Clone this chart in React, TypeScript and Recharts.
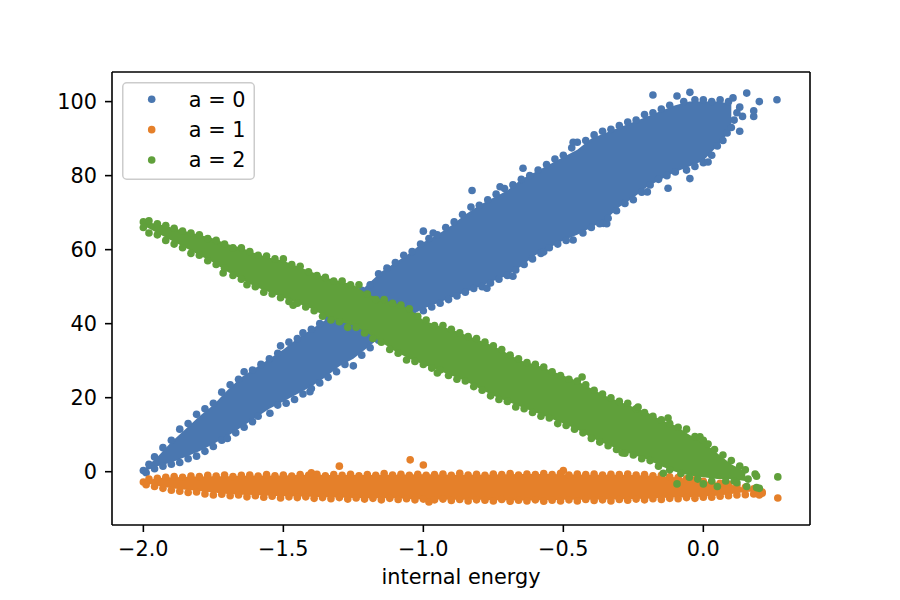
import React from 'react';
import { ComposedChart, Area, Scatter, XAxis, YAxis } from 'recharts';

const BLUE = '#4a77b0';
const ORANGE = '#e5802a';
const GREEN = '#60a03b';
const FONT = 'DejaVu Sans';

const seriesNames = ['a = 0', 'a = 1', 'a = 2'];
const seriesColors = [BLUE, ORANGE, GREEN];

const xTicks = [-2, -1.5, -1, -0.5, 0];
const yTicks = [0, 20, 40, 60, 80, 100];

// x grid for the dense core of each cloud
const bandX = [-2.0, -1.95, -1.9, -1.85, -1.8, -1.75, -1.7, -1.65, -1.6, -1.55, -1.5, -1.45, -1.4, -1.35, -1.3, -1.25, -1.2, -1.15, -1.1, -1.05, -1.0, -0.95, -0.9, -0.85, -0.8, -0.75, -0.7, -0.65, -0.6, -0.55, -0.5, -0.45, -0.4, -0.35, -0.3, -0.25, -0.2, -0.15, -0.1, -0.05, 0, 0.05, 0.1, 0.15, 0.2];

// a = 0 core (lower / upper)
const blueLo = [0, 1.5, 2.5, 4, 5.5, 7.5, 9.6, 12, 14.5, 17, 19, 21, 23, 25.5, 28.5, 30.5, 33.5, 36.5, 39.5, 42, 44, 45.5, 47, 48.5, 50, 51.5, 53, 55.5, 58.5, 60.5, 62.5, 64, 66, 68, 71.5, 74, 77, 79, 81, 82.5, 84, 88, 92.5, null, null];
const blueHi = [0.5, 4, 8, 11.5, 15, 18, 22, 25.5, 28, 30.5, 33, 36, 38.5, 41, 44, 47, 50.5, 54, 56.5, 59, 62, 64, 66.5, 69.5, 72, 74, 76, 79, 81, 83, 85, 87, 90, 91.5, 93, 94.5, 96, 97.5, 99, 100, 100, 100, 99.5, null, null];

// a = 1 core
const orangeLo = [-3, -3.8, -4.5, -4.9, -5.2, -5.6, -6, -6.2, -6.3, -6.5, -6.6, -6.7, -6.8, -6.9, -7, -7.1, -7.2, -7.2, -7.2, -7.4, -7.5, -7.5, -7.6, -7.6, -7.6, -7.7, -7.8, -7.8, -7.8, -7.7, -7.6, -7.6, -7.6, -7.5, -7.5, -7.4, -7.3, -7.1, -7, -6.9, -6.8, -6.5, -6, -5.5, -5.3];
const orangeHi = [-2.5, -1.8, -1.5, -1.4, -1.3, -1.25, -1.2, -1.1, -1, -1, -1, -0.9, -0.8, -0.9, -0.9, -0.9, -0.9, -0.85, -0.8, -0.75, -0.7, -0.75, -0.8, -0.8, -0.8, -0.75, -0.7, -0.65, -0.6, -0.65, -0.7, -0.75, -0.8, -0.8, -0.8, -0.9, -1, -1.2, -1.5, -2, -2.5, -3, -3.5, -4.5, -5];

// a = 2 core
const greenLo = [66.5, 64.5, 62.5, 60.5, 58.5, 56.5, 54, 52, 50, 48.5, 47, 45.5, 44, 42, 40.5, 39.5, 37.5, 35, 32.5, 30.5, 29, 27.5, 26, 24.5, 22.5, 20.5, 19, 17.5, 16, 14.5, 13, 11.4, 9.2, 7.5, 6, 4.5, 3.3, 1.5, 0, -1, -1.5, -2, -2, -2.5, null];
const greenHi = [67.5, 67, 66, 65, 64, 63, 61.5, 60.5, 59, 57.8, 57, 55.5, 54, 52.5, 51.5, 50.5, 48, 46.5, 45.5, 44, 41, 39.5, 38.5, 37, 35.5, 34, 32, 30, 29, 27.5, 26, 24.5, 22.5, 20.5, 19, 17.5, 16, 14, 12.5, 10, 8, 5, 2, 0, null];

// individual markers along the cloud edges and stray points
const blueDots: [number, number][] = [
  [-2.0, 0.3], [-1.98, 2], [-1.96, 4], [-1.93, 6.5], [-1.9, 8.5], [-1.87, 11.5], [-1.84, 13], [-1.81, 15.5], [-1.78, 17], [-1.75, 18.5],
  [-1.72, 21.5], [-1.69, 23.5], [-1.66, 25], [-1.64, 27], [-1.61, 27.5], [-1.58, 29], [-1.55, 30.5], [-1.52, 32], [-1.51, 34], [-1.48, 35],
  [-1.45, 36], [-1.43, 37.5], [-1.4, 38.5], [-1.37, 40], [-1.34, 41.5], [-1.31, 43.5], [-1.28, 45], [-1.25, 46.5], [-1.22, 49], [-1.19, 50.5],
  [-1.16, 53.5], [-1.13, 55], [-1.1, 56.5], [-1.07, 58.5], [-1.04, 59.5], [-1.01, 61.5], [-1.0, 65], [-0.98, 63], [-0.965, 64.5], [-0.95, 64], [-0.92, 66],
  [-0.89, 67.5], [-0.86, 69.5], [-0.83, 71.5], [-0.826, 76], [-0.8, 72], [-0.77, 73.5], [-0.74, 75], [-0.726, 77], [-0.71, 76.5], [-0.68, 77.5], [-0.65, 79],
  [-0.644, 82], [-0.62, 80], [-0.59, 81.5], [-0.56, 83], [-0.53, 84.5], [-0.5, 85.5], [-0.47, 87.5], [-0.465, 89], [-0.45, 89], [-0.42, 89.5], [-0.39, 91],
  [-0.36, 92], [-0.33, 92.5], [-0.3, 93.5], [-0.27, 94.5], [-0.24, 95], [-0.21, 96.5], [-0.18, 97], [-0.18, 101.8], [-0.15, 98], [-0.12, 99],
  [-0.094, 101.5], [-0.07, 100], [-0.048, 102.5], [-0.03, 100.5], [0, 100.5], [0.03, 100], [0.06, 100.5], [0.09, 100], [0.106, 101], [0.13, 98.5],
  [0.14, 96], [0.155, 102.3], [0.18, 96], [0.18, 97.5], [0.2, 100], [0.263, 100.5], [0.13, 92],
  [-1.99, -0.3], [-1.96, 0.8], [-1.93, 1.5], [-1.9, 2], [-1.87, 2.5], [-1.84, 3.5], [-1.81, 4.2], [-1.78, 5.5], [-1.75, 6.8], [-1.72, 8.5],
  [-1.7, 9], [-1.67, 10.5], [-1.64, 12], [-1.61, 13.5], [-1.59, 15], [-1.548, 15.8], [-1.52, 18], [-1.49, 18.5], [-1.46, 19.5], [-1.43, 21],
  [-1.405, 21.6], [-1.4, 22.5], [-1.37, 24], [-1.34, 25.5], [-1.31, 27], [-1.28, 29], [-1.25, 28.6], [-1.22, 31.5], [-1.19, 33.5], [-1.16, 35.5], [-1.13, 37],
  [-1.1, 39], [-1.07, 41], [-1.04, 42.5], [-1.0, 43.5], [-0.97, 44.5], [-0.94, 45.5], [-0.91, 46.5], [-0.88, 47.5], [-0.85, 48.5], [-0.82, 49.5],
  [-0.79, 50], [-0.773, 49.6], [-0.76, 51], [-0.73, 52], [-0.7, 53], [-0.68, 52.8], [-0.67, 54.5], [-0.64, 56], [-0.61, 57.5], [-0.58, 59],
  [-0.57, 59.4], [-0.55, 60.5], [-0.52, 61.5], [-0.49, 62.5], [-0.465, 62.6], [-0.43, 64.5], [-0.4, 66], [-0.37, 67], [-0.357, 67.1], [-0.345, 67], [-0.34, 68.5], [-0.31, 70.5],
  [-0.28, 72.5], [-0.25, 73.5], [-0.22, 75.5], [-0.2, 75.6], [-0.19, 77.5], [-0.16, 79], [-0.126, 76.6], [-0.13, 80], [-0.1, 81], [-0.06, 81.5], [-0.048, 79.2], [-0.03, 82.5],
  [0, 83.5], [0.017, 83.7], [0.03, 85.5], [0.05, 88], [0.07, 89.5], [0.085, 91.5], [0.1, 93], [0.11, 95], [0.12, 97],
];

const orangeDots: [number, number][] = [
  [-2.0, -2.8], [-1.98, -2], [-1.95, -1.8], [-1.92, -1.5], [-1.89, -1.3], [-1.86, -1.5], [-1.83, -1.2], [-1.8, -1.3], [-1.77, -1.0], [-1.74, -1.2],
  [-1.71, -0.9], [-1.68, -1.3], [-1.65, -1.0], [-1.62, -0.9], [-1.59, -1.2], [-1.56, -0.8], [-1.53, -1.1], [-1.5, -0.9], [-1.47, -1.2], [-1.44, -0.8],
  [-1.41, -1.0], [-1.4, -0.3], [-1.38, -0.7], [-1.35, -1.1], [-1.32, -0.8], [-1.3, 1.5], [-1.29, -1.0], [-1.26, -0.7], [-1.23, -1.1], [-1.2, -0.8],
  [-1.17, -1.0], [-1.14, -0.5], [-1.11, -0.9], [-1.08, -0.7], [-1.047, 3.2], [-1.05, -1.0], [-1.0, 1.8], [-1.02, -0.7], [-0.99, -1.0], [-0.96, -0.8],
  [-0.93, -0.6], [-0.9, -1.0], [-0.87, -0.4], [-0.84, -0.9], [-0.81, -0.7], [-0.78, -1.0], [-0.75, -0.6], [-0.72, -0.8], [-0.69, -0.5], [-0.66, -0.9],
  [-0.63, -0.6], [-0.6, -0.8], [-0.57, -0.5], [-0.54, -0.8], [-0.51, -0.4], [-0.5, 0.3], [-0.48, -0.9], [-0.45, -0.6], [-0.42, -0.8], [-0.39, -0.6],
  [-0.36, -0.9], [-0.33, -0.7], [-0.3, -0.8], [-0.27, -0.6], [-0.24, -0.9], [-0.21, -0.8], [-0.18, -1.1], [-0.15, -1.0], [-0.12, -1.4], [-0.09, -1.6],
  [-0.06, -1.9], [-0.03, -2.2], [0, -2.6], [0.03, -2.9], [0.06, -3.1], [0.09, -3.4], [0.12, -3.8], [0.15, -4.2], [0.18, -4.6], [0.2, -5.0], [0.21, -5.5],
  [-1.99, -3.5], [-1.96, -4], [-1.93, -4.5], [-1.9, -5], [-1.87, -5.3], [-1.84, -5.6], [-1.81, -5.5], [-1.78, -6], [-1.75, -6.3], [-1.72, -6.1],
  [-1.69, -6.5], [-1.66, -6.3], [-1.63, -6.8], [-1.6, -6.5], [-1.57, -6.9], [-1.54, -6.6], [-1.51, -7.1], [-1.48, -6.8], [-1.45, -7], [-1.42, -6.8],
  [-1.39, -7.2], [-1.36, -7], [-1.33, -7.3], [-1.3, -7], [-1.27, -7.4], [-1.24, -7.1], [-1.21, -7.4], [-1.18, -7.2], [-1.15, -7.6], [-1.12, -7.2],
  [-1.09, -7.5], [-1.06, -7.3], [-1.03, -7.6], [-1.0, -7.4], [-0.98, -8.2], [-0.96, -7.6], [-0.93, -7.4], [-0.9, -7.8], [-0.87, -7.5], [-0.84, -7.9],
  [-0.81, -7.6], [-0.78, -7.7], [-0.75, -7.9], [-0.72, -7.5], [-0.69, -8], [-0.66, -7.7], [-0.63, -7.9], [-0.6, -7.6], [-0.57, -8], [-0.54, -7.7],
  [-0.51, -7.9], [-0.48, -7.6], [-0.45, -7.9], [-0.42, -7.5], [-0.39, -7.8], [-0.36, -7.6], [-0.33, -7.9], [-0.3, -7.5], [-0.27, -7.7], [-0.24, -7.4],
  [-0.21, -7.6], [-0.18, -7.3], [-0.15, -7.5], [-0.12, -7.2], [-0.09, -7.3], [-0.06, -7], [-0.03, -7.2], [0, -6.9], [0.03, -6.9], [0.06, -6.6],
  [0.09, -6.5], [0.12, -6.3], [0.15, -6.2], [0.18, -6.0], [0.2, -6.3], [0.21, -5.8], [0.266, -7.1],
];

const greenDots: [number, number][] = [
  [-2.0, 67.5], [-2.0, 66], [-1.98, 67.8], [-1.95, 67], [-1.92, 66.5], [-1.89, 65.8], [-1.86, 65], [-1.83, 64.5], [-1.8, 64], [-1.77, 63],
  [-1.74, 62.5], [-1.71, 61.5], [-1.68, 60.5], [-1.65, 60.5], [-1.62, 59.5], [-1.59, 58.5], [-1.56, 58.3], [-1.53, 57.5], [-1.5, 57.5], [-1.47, 56],
  [-1.44, 55.5], [-1.41, 54], [-1.38, 53], [-1.35, 52.5], [-1.32, 51.5], [-1.29, 51.5], [-1.26, 50.5], [-1.23, 50.5], [-1.2, 48], [-1.17, 46.5],
  [-1.14, 46.5], [-1.11, 45.5], [-1.08, 45], [-1.05, 44], [-1.02, 42], [-0.99, 41], [-0.96, 39.5], [-0.93, 39.5], [-0.9, 38.5], [-0.87, 37.5],
  [-0.84, 36.5], [-0.81, 36], [-0.78, 35], [-0.75, 34], [-0.72, 33], [-0.69, 31.5], [-0.66, 30.5], [-0.63, 29.5], [-0.6, 29], [-0.57, 28.3],
  [-0.54, 27], [-0.51, 26], [-0.48, 25], [-0.45, 24.5], [-0.433, 25.6], [-0.42, 23.5], [-0.39, 22], [-0.36, 21], [-0.33, 20], [-0.3, 19],
  [-0.27, 18.5], [-0.24, 17], [-0.233, 17.5], [-0.21, 16], [-0.18, 15], [-0.15, 14], [-0.126, 14.5], [-0.12, 13], [-0.09, 12], [-0.06, 11.5], [-0.03, 9.5],
  [-0.012, 9.4], [0, 8.5], [0.017, 7.5], [0.04, 6], [0.07, 4.5], [0.1, 3], [0.13, 1.5], [0.15, 0.5], [0.185, -0.6], [0.19, -1.2], [0.266, -1.4],
  [-1.98, 64.5], [-1.95, 64], [-1.92, 62.5], [-1.89, 61.5], [-1.86, 60.5], [-1.83, 59], [-1.8, 58.5], [-1.77, 57], [-1.74, 56], [-1.715, 53.7],
  [-1.71, 55], [-1.68, 53], [-1.65, 52], [-1.63, 50.5], [-1.6, 50], [-1.57, 48.5], [-1.54, 48], [-1.51, 47], [-1.48, 46], [-1.465, 45],
  [-1.45, 45.5], [-1.42, 44.5], [-1.39, 43.5], [-1.36, 42], [-1.33, 41], [-1.3, 40.5], [-1.27, 39], [-1.24, 39], [-1.21, 37.5], [-1.18, 36],
  [-1.15, 35], [-1.12, 33], [-1.09, 32], [-1.06, 30.2], [-1.03, 29.8], [-1.0, 29], [-0.97, 28], [-0.95, 26.7], [-0.94, 27.5], [-0.91, 26],
  [-0.88, 25], [-0.85, 24.5], [-0.82, 23], [-0.79, 22], [-0.76, 20.5], [-0.73, 19.5], [-0.7, 19], [-0.67, 17.5], [-0.64, 17], [-0.61, 16],
  [-0.58, 15], [-0.55, 14.5], [-0.52, 13], [-0.49, 12.5], [-0.46, 11.5], [-0.43, 10.5], [-0.4, 9], [-0.37, 8], [-0.34, 7], [-0.31, 6],
  [-0.29, 5.1], [-0.28, 5], [-0.25, 4.5], [-0.22, 3.5], [-0.19, 3], [-0.16, 1.5], [-0.143, -0.4], [-0.12, 0.5], [-0.094, -3.3], [-0.08, -0.5], [-0.05, -1.5],
  [-0.02, -2], [0, -3.3], [0.03, -2.5], [0.05, -4], [0.08, -2.5], [0.11, -2.5], [0.12, -3], [0.155, -4], [0.16, -2], [0.19, -4.3], [0.2, -4.5],
];

const toRange = (lo: (number | null)[], hi: (number | null)[], i: number) =>
  lo[i] == null || hi[i] == null ? undefined : [lo[i], hi[i]];

const bandData = bandX.map((x, i) => ({
  x,
  blue: toRange(blueLo, blueHi, i),
  orange: toRange(orangeLo, orangeHi, i),
  green: toRange(greenLo, greenHi, i),
}));

const toPoints = (pts: [number, number][]) => pts.map(([x, y]) => ({ x, y }));

const fmtX = (v: number) => (v < 0 ? '\u2212' : '') + Math.abs(v).toFixed(1);

const DOT_R = 3.8;
const dotShape = (color: string) => (props: any) => (
  <circle cx={props.cx} cy={props.cy} r={DOT_R} fill={color} />
);

const X_DOMAIN = [-2.112, 0.381];
const Y_DOMAIN = [-14.4, 108];
const axisStroke = { stroke: '#000', strokeWidth: 1.6 };
const tickText = { fill: '#000', fontSize: 20.8, fontFamily: FONT };

const LegendBox = () => (
  <svg width={134} height={99} style={{ position: 'absolute', left: 122, top: 82 }}>
    <rect x={0.75} y={0.75} width={131.5} height={96.5} rx={4} fill="#fff" fillOpacity={0.8} stroke="#cccccc" strokeWidth={1.5} />
    {seriesNames.map((name, i) => (
      <g key={name}>
        <circle cx={29.7} cy={17.3 + i * 30.35} r={DOT_R} fill={seriesColors[i]} />
        <text x={66.8} y={24.7 + i * 30.35} fontSize={20.8} fontFamily={FONT} fill="#000">
          {name}
        </text>
      </g>
    ))}
  </svg>
);

export default function App() {
  return (
    <div style={{ position: 'absolute', left: 0, top: 0, width: 900, height: 600, background: '#fff' }}>
      <ComposedChart
        width={900}
        height={600}
        data={bandData}
        margin={{ top: 42, right: 30, bottom: 0, left: 0 }}
        style={{ fontFamily: FONT }}
      >
        <XAxis
          dataKey="x"
          type="number"
          domain={X_DOMAIN}
          allowDataOverflow
          ticks={xTicks}
          interval={0}
          tickFormatter={fmtX}
          height={75}
          tickSize={7}
          tickMargin={9}
          axisLine={axisStroke}
          tickLine={axisStroke}
          tick={tickText}
          label={{ value: 'internal energy', position: 'insideBottom', offset: 16, ...tickText }}
        />
        <XAxis xAxisId="top" orientation="top" type="number" domain={X_DOMAIN} allowDataOverflow height={30} tick={false} tickLine={false} axisLine={axisStroke} />
        <YAxis
          dataKey="y"
          type="number"
          domain={Y_DOMAIN}
          allowDataOverflow
          ticks={yTicks}
          interval={0}
          width={112}
          tickSize={7}
          tickMargin={8}
          axisLine={axisStroke}
          tickLine={axisStroke}
          tick={tickText}
        />
        <YAxis yAxisId="right" orientation="right" type="number" domain={Y_DOMAIN} allowDataOverflow width={60} tick={false} tickLine={false} axisLine={axisStroke} />

        <Area dataKey="blue" type="linear" stroke="none" fill={BLUE} fillOpacity={1} isAnimationActive={false} legendType="none" dot={false} activeDot={false} zIndex={101} />
        <Scatter name="a = 0" data={toPoints(blueDots)} fill={BLUE} shape={dotShape(BLUE)} isAnimationActive={false} zIndex={102} />
        <Area dataKey="orange" type="linear" stroke="none" fill={ORANGE} fillOpacity={1} isAnimationActive={false} legendType="none" dot={false} activeDot={false} zIndex={103} />
        <Scatter name="a = 1" data={toPoints(orangeDots)} fill={ORANGE} shape={dotShape(ORANGE)} isAnimationActive={false} zIndex={104} />
        <Area dataKey="green" type="linear" stroke="none" fill={GREEN} fillOpacity={1} isAnimationActive={false} legendType="none" dot={false} activeDot={false} zIndex={105} />
        <Scatter name="a = 2" data={toPoints(greenDots)} fill={GREEN} shape={dotShape(GREEN)} isAnimationActive={false} zIndex={106} />
      </ComposedChart>
      <LegendBox />
    </div>
  );
}
